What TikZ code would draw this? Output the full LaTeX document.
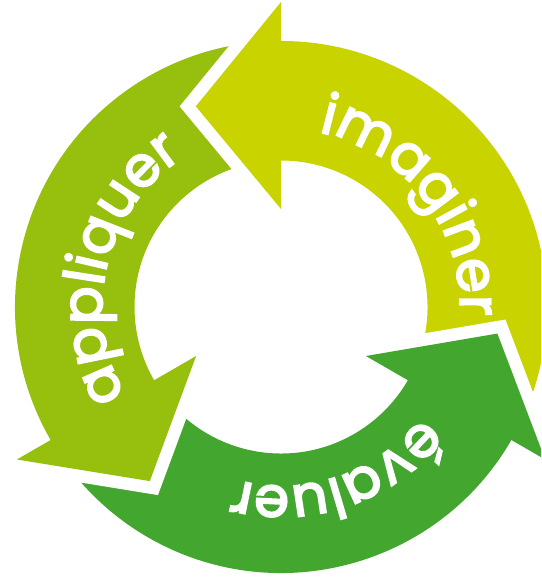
\documentclass[tikz,border=0pt]{standalone}
\usepackage{fontspec}
\newfontfamily\lblfont{Poppins}[FakeBold=3.5]
\usetikzlibrary{decorations.text}
\definecolor{limeA}{HTML}{C8D300}
\definecolor{leafB}{HTML}{97BF0D}
\definecolor{grassC}{HTML}{43A62F}
\begin{document}
\begin{tikzpicture}[x=1pt,y=1pt,
  gap/.style={draw=white, line width=25pt, line join=miter, line cap=butt},
  lbl/.style={decorate, decoration={text along path, text align=center, text color=white}}]
\clip (-281pt,-271pt) rectangle (260pt,307pt);
% bands
\foreach \b/\c in {90/limeA,210/leafB,330/grassC}{
  \fill[\c] ({\b+3}:266pt) arc[start angle={\b+3}, end angle={\b-117}, radius=266pt]
    -- ({\b-117}:146.5pt) arc[start angle={\b-117}, end angle={\b+3}, radius=146.5pt] -- cycle;
}
% heads
\foreach \b/\c in {90/limeA,210/leafB,330/grassC}{
  \coordinate (w1) at (\b:98pt);
  \coordinate (tp) at ({\b+23}:218pt);
  \coordinate (w2) at (\b:305pt);
  \draw[gap] (w1) -- (tp) -- (w2);
  \fill[\c] (w1) -- (tp) -- (w2) -- cycle;
}
% labels
\path[lbl, decoration={text={|\lblfont\fontsize{56pt}{56pt}\selectfont|imaginer}}]
  (97.5:179pt) arc[start angle=97.5, end angle=-22.5, radius=179pt];
\path[lbl, decoration={text={|\lblfont\fontsize{56pt}{56pt}\selectfont|appliquer}}]
  (226.5:179pt) arc[start angle=226.5, end angle=106.5, radius=179pt];
\path[lbl, decoration={text={|\lblfont\fontsize{56pt}{56pt}\selectfont|évaluer}}]
  (348.5:179pt) arc[start angle=348.5, end angle=228.5, radius=179pt];
\end{tikzpicture}
\end{document}
